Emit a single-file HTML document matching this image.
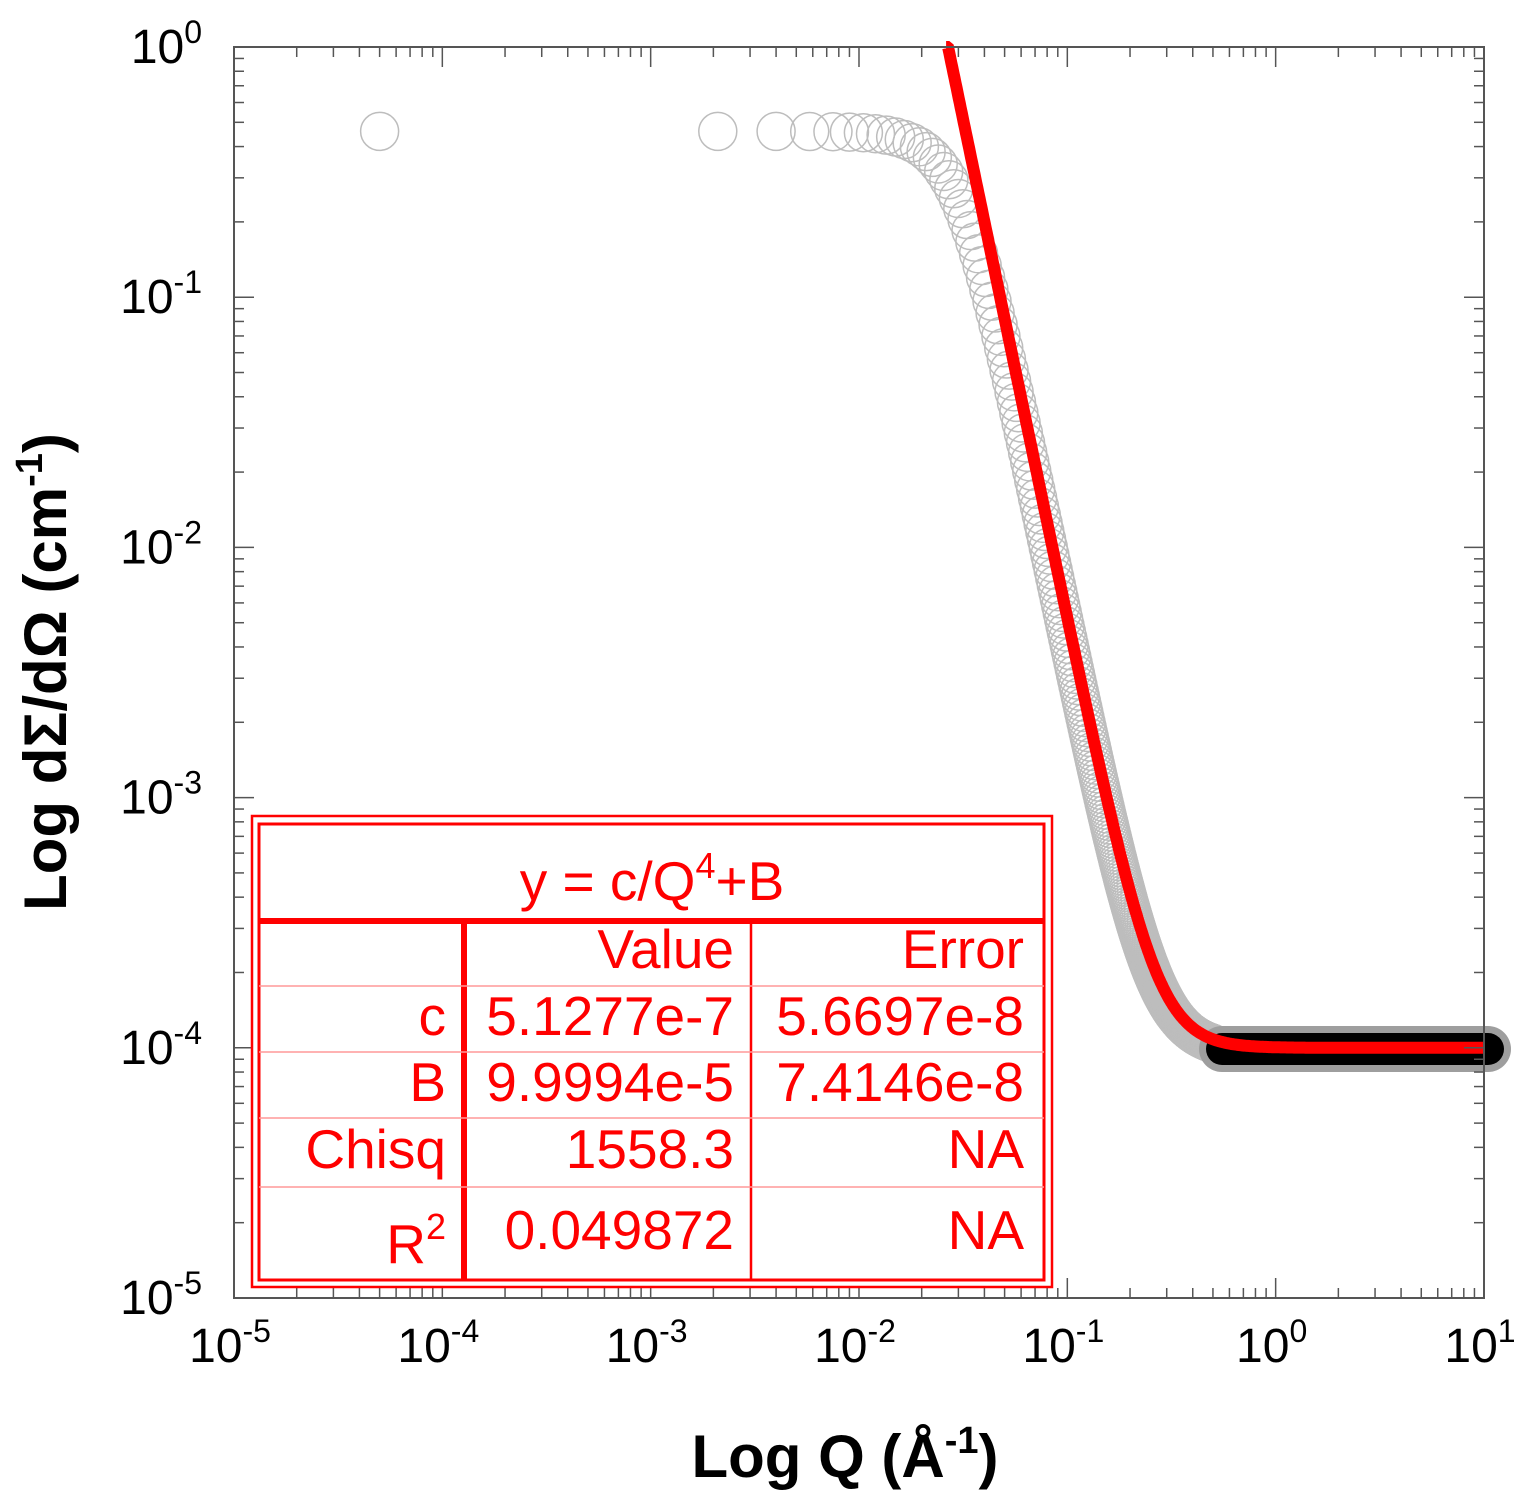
<!DOCTYPE html>
<html><head><meta charset="utf-8"><style>
html,body{margin:0;padding:0;background:#fff}
svg{display:block}
text{font-family:"Liberation Sans",sans-serif}
</style></head><body>
<svg id="s" width="1535" height="1505" viewBox="0 0 1535 1505" xmlns="http://www.w3.org/2000/svg">
<rect width="1535" height="1505" fill="#fff"/>
<g id="data"></g>
<g id="ax" stroke="#555" stroke-width="1.5" fill="none"></g>
<rect x="234" y="47" width="1250" height="1251" fill="none" stroke="#555" stroke-width="2"/>
<g id="lab" font-size="48" fill="#000"></g>
<text x="845" y="1477" font-size="60" font-weight="bold" text-anchor="middle">Log Q (Å<tspan dy="-24" font-size="38">-1</tspan><tspan dy="24">)</tspan></text>
<text transform="translate(66,672) rotate(-90)" font-size="60" font-weight="bold" text-anchor="middle">Log dΣ/dΩ (cm<tspan dy="-24" font-size="38">-1</tspan><tspan dy="24">)</tspan></text>
<!-- table -->
<g>
<rect x="252" y="816" width="800" height="471" fill="#fff" stroke="#f00" stroke-width="2.5"/>
<rect x="259" y="824" width="785" height="456" fill="none" stroke="#f00" stroke-width="3"/>
<line x1="259" y1="921" x2="1044" y2="921" stroke="#f00" stroke-width="6"/>
<line x1="464" y1="921" x2="464" y2="1280" stroke="#f00" stroke-width="6"/>
<line x1="751" y1="921" x2="751" y2="1280" stroke="#f00" stroke-width="2.5"/>
<g stroke="#f99" stroke-width="1.5">
<line x1="259" y1="986" x2="1044" y2="986"/>
<line x1="259" y1="1052" x2="1044" y2="1052"/>
<line x1="259" y1="1118" x2="1044" y2="1118"/>
<line x1="259" y1="1187" x2="1044" y2="1187"/>
</g>
<g fill="#f00" font-size="55">
<text x="652" y="900" text-anchor="middle">y = c/Q<tspan dy="-22" font-size="36">4</tspan><tspan dy="22">+B</tspan></text>
<text x="734" y="968" text-anchor="end">Value</text>
<text x="1024" y="968" text-anchor="end">Error</text>
<text x="446" y="1035" text-anchor="end">c</text>
<text x="734" y="1035" text-anchor="end">5.1277e-7</text>
<text x="1024" y="1035" text-anchor="end">5.6697e-8</text>
<text x="446" y="1101" text-anchor="end">B</text>
<text x="734" y="1101" text-anchor="end">9.9994e-5</text>
<text x="1024" y="1101" text-anchor="end">7.4146e-8</text>
<text x="446" y="1168" text-anchor="end">Chisq</text>
<text x="734" y="1168" text-anchor="end">1558.3</text>
<text x="1024" y="1168" text-anchor="end">NA</text>
<text x="446" y="1263" text-anchor="end">R<tspan dy="-24" font-size="36">2</tspan></text>
<text x="734" y="1249" text-anchor="end">0.049872</text>
<text x="1024" y="1249" text-anchor="end">NA</text>
</g>
</g>
</svg>
<script>
(function(){
var NS="http://www.w3.org/2000/svg";
function X(q){return 234+(Math.log10(q)+5)*208.33;}
function Y(v){return 47-Math.log10(v)*250.2;}
function el(t,a,p){var e=document.createElementNS(NS,t);for(var k in a)e.setAttribute(k,a[k]);p.appendChild(e);return e;}
var ax=document.getElementById('ax'),lab=document.getElementById('lab'),data=document.getElementById('data');
var L=234,R=1484,T=47,B=1298;
for(var d=-5;d<=1;d++){
 for(var m=1;m<=9;m++){
  if(d==1&&m>1)break;
  var x=X(m*Math.pow(10,d));var len=m==1?20:10;
  el('line',{x1:x,y1:B,x2:x,y2:B-len},ax);
  el('line',{x1:x,y1:T,x2:x,y2:T+len},ax);
 }
 var t=el('text',{x:X(Math.pow(10,d))-4,y:1362,'text-anchor':'middle'},lab);
 t.innerHTML='10<tspan dy="-20" font-size="32">'+d+'</tspan>';
}
for(var d=-5;d<=0;d++){
 for(var m=1;m<=9;m++){
  if(d==0&&m>1)break;
  var y=Y(m*Math.pow(10,d));var len=m==1?20:10;
  el('line',{x1:L,y1:y,x2:L+len,y2:y},ax);
  el('line',{x1:R,y1:y,x2:R-len,y2:y},ax);
 }
 var t=el('text',{x:202,y:Y(Math.pow(10,d))+16,'text-anchor':'end'},lab);
 t.innerHTML='10<tspan dy="-20" font-size="32">'+d+'</tspan>';
}
var c=5.1277e-7,Bg=1e-4;
function I(q){return 1/(1/0.46+Math.pow(q,4)/(c*0.85))+Bg*0.97;}
var qs=[5e-5,2.1e-3,4e-3,5.8e-3,7.5e-3];
for(var q=0.009;q<0.5;q+=0.0015)qs.push(q);
qs.forEach(function(q){
 el('circle',{cx:X(q),cy:Y(I(q)),r:19,fill:'none',stroke:'#bdbdbd','stroke-width':1.5},data);
});
el('line',{x1:1222,y1:1049,x2:1488,y2:1049,stroke:'#9e9e9e','stroke-width':46,'stroke-linecap':'round'},data);
el('line',{x1:1222,y1:1049,x2:1488,y2:1049,stroke:'#000','stroke-width':32,'stroke-linecap':'round'},data);
var d='';var first=true;
for(var lq=Math.log10(0.0262);lq<=1.0;lq+=0.005){
 var q=Math.pow(10,lq);var v=c/Math.pow(q,4)+Bg;var y=Y(v);if(y<47)y=47;
 d+=(first?'M':'L')+X(q).toFixed(1)+','+y.toFixed(1);first=false;
}
el('path',{d:d,fill:'none',stroke:'#f00','stroke-width':12,'stroke-linecap':'butt'},data);
})();
</script>
</body></html>
